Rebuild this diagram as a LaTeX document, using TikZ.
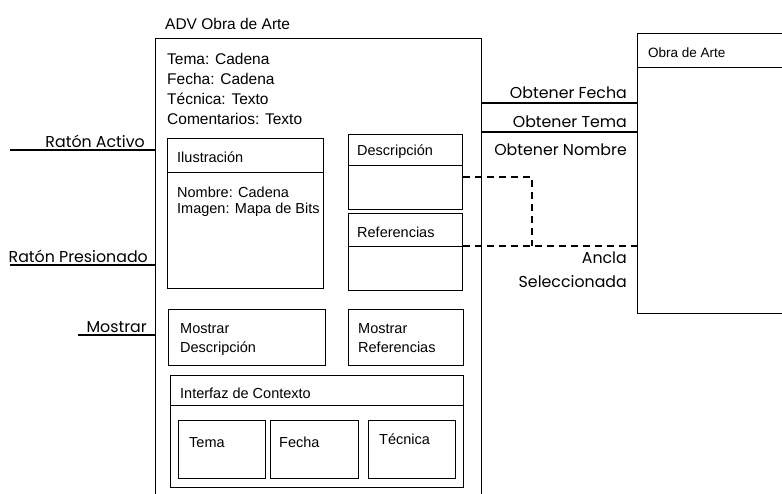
\documentclass[tikz,border=0pt]{standalone}
\usepackage{fontspec}
\setmainfont{Liberation Sans}
\newfontfamily\lblfont{Poppins}
\begin{document}
\begin{tikzpicture}[x=1pt,y=-1pt,
  box/.style={draw, line width=1.4pt, rectangle, inner sep=0pt, anchor=north west},
  txt/.style={inner sep=0pt, anchor=base west, font=\fontsize{14.5}{16}\selectfont},
  attr/.style={inner sep=0pt, anchor=base west, font=\fontsize{15.5}{20}\selectfont},
  lbl/.style={inner sep=0pt, anchor=base east, font=\lblfont\fontsize{15.8}{18}\selectfont},
  wire/.style={line width=1.4pt},
  link/.style={line width=1.4pt, dash pattern=on 7pt off 5pt}]

\useasboundingbox (0,0) rectangle (782,493);
\clip (0,0) rectangle (782,493);

% ADV frame, running past the lower edge
\node[box, minimum width=326pt, minimum height=480pt] (adv) at (155,38) {};
\node[attr] (advt) at (165,29) {ADV Obra de Arte};
\node[attr] (a1) at (167,64) {Tema: Cadena};
\node[attr] (a2) at (167,84) {Fecha: Cadena};
\node[attr] (a3) at (167,104) {Técnica: Texto};
\node[attr] (a4) at (167,124) {Comentarios: Texto};

% Ilustracion
\node[box, minimum width=156pt, minimum height=34pt] (iluH) at (167,138) {};
\node[box, minimum width=156pt, minimum height=116pt] (iluB) at (167,172) {};
\node[txt] (iluT) at (177,162) {Ilustración};
\node[txt] (iluA) at (177,197) {Nombre: Cadena};
\node[txt] (iluB2) at (177,213) {Imagen: Mapa de Bits};

% Descripcion and Referencias
\node[box, minimum width=114pt, minimum height=31pt] (descH) at (348,134) {};
\node[box, minimum width=114pt, minimum height=44pt] (descB) at (348,165) {};
\node[txt] (descT) at (357,155) {Descripción};
\node[box, minimum width=114pt, minimum height=33pt] (refH) at (348,213) {};
\node[box, minimum width=114pt, minimum height=44pt] (refB) at (348,246) {};
\node[txt] (refT) at (357,237) {Referencias};

% Mostrar views
\node[box, minimum width=157pt, minimum height=56pt] (mdesc) at (168,309) {};
\node[txt] (md1) at (180,333) {Mostrar};
\node[txt] (md2) at (180,352) {Descripción};
\node[box, minimum width=115pt, minimum height=56pt] (mref) at (348,309) {};
\node[txt] (mr1) at (358,333) {Mostrar};
\node[txt] (mr2) at (358,352) {Referencias};

% Interfaz de Contexto
\node[box, minimum width=293pt, minimum height=30pt] (ctxH) at (170,375) {};
\node[box, minimum width=293pt, minimum height=82pt] (ctxB) at (170,405) {};
\node[txt] (ctxT) at (180,398) {Interfaz de Contexto};
\node[box, minimum width=87pt, minimum height=58pt] (tema) at (178,420) {};
\node[box, minimum width=88pt, minimum height=58pt] (fecha) at (270,420) {};
\node[box, minimum width=87pt, minimum height=58pt] (tecnica) at (368,420) {};
\node[txt] (temaT) at (189,447) {Tema};
\node[txt] (fechaT) at (279,447) {Fecha};
\node[txt] (tecnicaT) at (379,444) {Técnica};

% Obra de Arte, running past the right edge
\node[box, minimum width=160pt, minimum height=34pt] (obraH) at (637,33) {};
\node[box, minimum width=160pt, minimum height=246pt] (obraB) at (637,67) {};
\node[txt, font=\fontsize{13.5}{16}\selectfont] (obraT) at (648,57) {Obra de Arte};

% incoming events on the left
\coordinate (inA) at (10,150);
\coordinate (inP) at (10,265);
\coordinate (inM) at (78,335);
\draw[wire] (inA) -- (inA -| adv.west);
\draw[wire] (inP) -- (inP -| adv.west);
\draw[wire] (inM) -- (inM -| adv.west);
\node[lbl] (lA) at (145,147) {Ratón Activo};
\node[lbl] (lP) at (148,262) {Ratón Presionado};
\node[lbl] (lM) at (147,332) {Mostrar};

% requests to Obra de Arte
\coordinate (rF) at (0,103);
\coordinate (rT) at (0,132);
\draw[wire] (adv.east |- rF) -- (obraB.west |- rF);
\draw[wire] (adv.east |- rT) -- (obraB.west |- rT);
\node[lbl] (oF) at (627,98) {Obtener Fecha};
\node[lbl] (oT) at (627,127) {Obtener Tema};
\node[lbl] (oN) at (627,155) {Obtener Nombre};
\node[lbl] (oA1) at (627,263) {Ancla};
\node[lbl] (oA2) at (627,287) {Seleccionada};

% anchor selection links
\coordinate (dk) at (532,177);
\draw[link] (descB.east |- dk) -- (dk) -- (dk |- refB.north);
\draw[link] (refB.north east) -- (obraB.west |- refB.north);
\end{tikzpicture}
\end{document}
